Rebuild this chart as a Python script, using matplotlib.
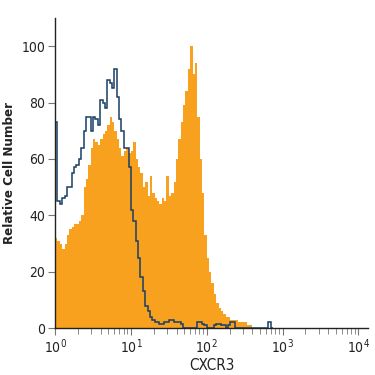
import numpy as np
import matplotlib
matplotlib.use("Agg")
from matplotlib import pyplot as plt

plt.rcParams['font.family'] = ['DejaVu Sans']
plt.rcParams['font.stretch'] = 'condensed'
plt.rcParams['mathtext.fontset'] = 'custom'
plt.rcParams['mathtext.rm'] = 'DejaVu Sans:stretch=condensed'

# histogram channels: 1/32 decade per bin starting at 10^0
bin_step = 1 / 32

cxcr3 = [32, 31, 30, 28, 30, 33, 35, 36, 37, 37, 38, 40, 50, 53, 58, 64, 67, 66,
         65, 67, 69, 70, 72, 75, 73, 70, 67, 64, 61, 63, 64, 62, 63, 66, 60, 57,
         55, 50, 52, 47, 54, 48, 46, 45, 44, 46, 45, 54, 47, 48, 52, 60, 67, 73,
         79, 84, 92, 100, 90, 94, 75, 60, 48, 33, 25, 20, 16, 12, 9, 7, 6, 5,
         4, 4, 3, 3, 3, 2, 2, 2, 2, 1, 1]

isotype = [73, 45, 44, 46, 47, 50, 50, 55, 57, 58, 60, 64, 70, 75, 75, 70, 75, 74,
           72, 81, 80, 78, 88, 87, 85, 92, 82, 74, 70, 64, 64, 57, 42, 38, 31, 25,
           18, 13, 8, 6, 4, 3, 2, 2, 1.5, 1.5, 2, 2, 3, 3, 2, 2, 2, 1.5, 0, 0,
           0, 0, 0, 0, 2, 2, 1.5, 1, 0, 0, 0, 1, 1.5, 1.5, 1, 1, 0, 1, 2, 2,
           0, 0, 0, 0, 0, 0, 0, 0, 0, 0, 0, 0, 0, 0, 2, 0]

orange = '#f7a11e'
navy = '#173f66'

fig = plt.figure(figsize=(3.75, 3.75), dpi=100)
ax = fig.add_axes([0.147, 0.125, 0.835, 0.827])

edges_o = 10 ** (np.arange(len(cxcr3) + 1) * bin_step)
edges_i = 10 ** (np.arange(len(isotype) + 1) * bin_step)
ax.stairs(cxcr3, edges_o, fill=True, color=orange, lw=0)
ax.stairs(isotype, edges_i, color=navy, lw=1.1, baseline=0)

ax.set_xscale('log')
ax.set_xlim(1, 10 ** 4.13)
ax.set_ylim(0, 110)
ax.set_xticks([1, 10, 100, 1000, 10000])
ax.set_xticklabels(['$10^0$', '$10^1$', '$10^2$', '$10^3$', '$10^4$'])
ax.set_yticks([0, 20, 40, 60, 80, 100])

for s in ['top', 'right']:
    ax.spines[s].set_visible(False)
for s in ['left', 'bottom']:
    ax.spines[s].set_color('#222222')
    ax.spines[s].set_linewidth(1.0)

ax.tick_params(axis='both', which='major', length=5, width=0.8, color='#777777',
               labelsize=10, labelcolor='#222222', pad=2)
ax.tick_params(axis='x', which='minor', length=4, width=0.6, color='#777777')

ax.set_ylabel('Relative Cell Number', fontsize=9.5, fontweight='bold', color='#222222',
              labelpad=4)
ax.set_xlabel('CXCR3', fontsize=11, color='#222222', labelpad=1)

fig.savefig('out.png', dpi=100)
